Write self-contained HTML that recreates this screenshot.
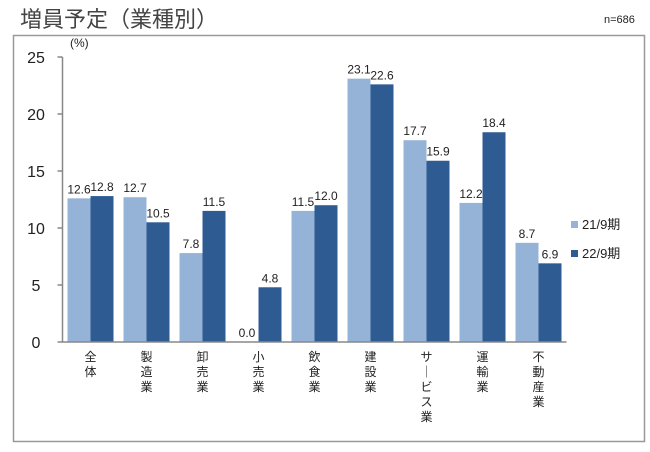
<!DOCTYPE html>
<html><head><meta charset="utf-8"><style>
body{margin:0;background:#fff;font-family:"Liberation Sans","Noto Sans CJK JP",sans-serif;}
</style></head><body>
<svg width="650" height="447" viewBox="0 0 650 447" xmlns="http://www.w3.org/2000/svg" font-family="Liberation Sans, Noto Sans CJK JP, sans-serif">
<text x="20" y="27" font-size="22" fill="#444">増員予定（業種別）</text>
<text x="604" y="23" font-size="11" fill="#222">n=686</text>
<rect x="13.5" y="35.5" width="631" height="406" fill="none" stroke="#999" stroke-width="1.5"/>
<text x="70" y="47" font-size="12" fill="#222">(%)</text>
<g id="plot"></g>
<g>
<rect x="571" y="221" width="7" height="7" fill="#95b3d7"/>
<text x="582" y="229" font-size="13" fill="#222">21/9期</text>
<rect x="571" y="250" width="7" height="7" fill="#2f5b93"/>
<text x="582" y="258" font-size="13" fill="#222">22/9期</text>
</g>
</svg>
<script>
const categories=["全体","製造業","卸売業","小売業","飲食業","建設業","サービス業","運輸業","不動産業"];
const series21=[12.6,12.7,7.8,0.0,11.5,23.1,17.7,12.2,8.7];
const series22=[12.8,10.5,11.5,4.8,12.0,22.6,15.9,18.4,6.9];
const yTicks=[0,5,10,15,20,25];
const NS="http://www.w3.org/2000/svg";
const g=document.getElementById('plot');
const x0=62.5,y0=342,yTop=57,yMax=25,cw=56,bw=23,pad=5;
const y=v=>y0-(v/yMax)*(y0-yTop);
const xc=i=>x0+i*cw;
function mk(t,a){const e=document.createElementNS(NS,t);for(const k in a)e.setAttribute(k,a[k]);g.appendChild(e);return e;}
categories.forEach((c,i)=>{
 const v1=series21[i],v2=series22[i];
 const b1=mk('rect',{x:xc(i)+pad,y:y(v1),width:bw,height:y0-y(v1),fill:'#95b3d7'});
 
 
 const b2=mk('rect',{x:xc(i)+pad+bw,y:y(v2),width:bw,height:y0-y(v2),fill:'#2f5b93'});
 
 
 const l1=mk('text',{x:xc(i)+pad+bw/2,y:y(v1)-5,'font-size':12,'text-anchor':'middle',fill:'#222'});
 l1.textContent=v1.toFixed(1);
 
 
 const l2=mk('text',{x:xc(i)+pad+bw*1.5,y:y(v2)-5,'font-size':12,'text-anchor':'middle',fill:'#222'});
 l2.textContent=v2.toFixed(1);
 
 
 const ct=mk('text',{'font-size':12,'text-anchor':'middle',fill:'#222'});
 
 
 [...c].forEach((ch,j)=>{const ts=document.createElementNS(NS,'tspan');ts.setAttribute('x',xc(i)+cw/2);ts.setAttribute('y',361+j*15);ts.textContent=ch==='ー'?'｜':ch;ct.appendChild(ts);});
});
yTicks.forEach(t=>{
 const tk=mk('line',{x1:x0-5,x2:x0,y1:y(t),y2:y(t),stroke:'#888','stroke-width':1.5});
 
 
 const tl=mk('text',{x:36,y:y(t)+6,'font-size':16,'text-anchor':'middle',fill:'#222'});
 tl.textContent=t;
 
 
});
const ya=mk('line',{x1:x0,x2:x0,y1:yTop,y2:y0,stroke:'#888','stroke-width':1.5});


const xa=mk('line',{x1:x0,x2:x0+cw*categories.length,y1:y0,y2:y0,stroke:'#888','stroke-width':1.5});


</script>
</body></html>
